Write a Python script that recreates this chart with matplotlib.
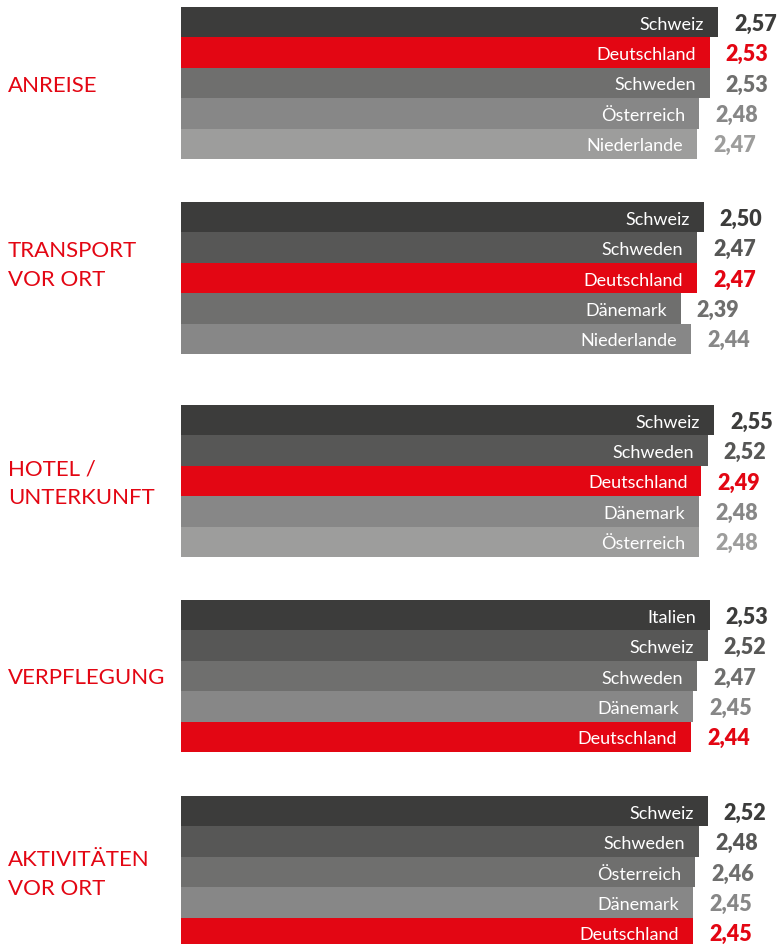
import matplotlib.pyplot as plt

# data
categories = ["ANREISE", "TRANSPORT\nVOR ORT", "HOTEL /\nUNTERKUNFT", "VERPFLEGUNG", "AKTIVITÄTEN\nVOR ORT"]

anreise_countries = ["Schweiz", "Deutschland", "Schweden", "Österreich", "Niederlande"]
anreise_values = [2.57, 2.53, 2.53, 2.48, 2.47]

transport_countries = ["Schweiz", "Schweden", "Deutschland", "Dänemark", "Niederlande"]
transport_values = [2.50, 2.47, 2.47, 2.39, 2.44]

hotel_countries = ["Schweiz", "Schweden", "Deutschland", "Dänemark", "Österreich"]
hotel_values = [2.55, 2.52, 2.49, 2.48, 2.48]

verpflegung_countries = ["Italien", "Schweiz", "Schweden", "Dänemark", "Deutschland"]
verpflegung_values = [2.53, 2.52, 2.47, 2.45, 2.44]

aktiv_countries = ["Schweiz", "Schweden", "Österreich", "Dänemark", "Deutschland"]
aktiv_values = [2.52, 2.48, 2.46, 2.45, 2.45]

# colours
C1, C2, C3, C4, C5 = "#3c3c3b", "#575756", "#6f6f6e", "#878787", "#9d9d9c"
RED = "#e30613"
group_colors = [
    [C1, RED, C3, C4, C5],
    [C1, C2, RED, C3, C4],
    [C1, C2, RED, C4, C5],
    [C1, C2, C3, C4, RED],
    [C1, C2, C3, C4, RED],
]

groups = [
    (anreise_countries, anreise_values),
    (transport_countries, transport_values),
    (hotel_countries, hotel_values),
    (verpflegung_countries, verpflegung_values),
    (aktiv_countries, aktiv_values),
]

# layout (pixels)
W, H = 778, 944
X0 = 181            # pixel where value 0 sits
PX_PER_UNIT = 209
ROW_H = 30.4
group_tops = [7, 202, 405, 600, 796]
label_rows = [2.5, 2.0, 2.5, 2.5, 2.5]   # vertical centre of category label, in rows

plt.rcParams['font.family'] = ['Lato', 'DejaVu Sans']

fig = plt.figure(figsize=(W / 100, H / 100), dpi=100)
ax = fig.add_axes([X0 / W, 0, (W - X0) / W, 1])
ax.set_xlim(0, (W - X0) / PX_PER_UNIT)
ax.set_ylim(H, 0)
ax.axis('off')

pad_in = 14 / PX_PER_UNIT
pad_out = 16 / PX_PER_UNIT

for g, (countries, values) in enumerate(groups):
    top = group_tops[g]
    ys = [top + i * ROW_H for i in range(len(values))]
    ax.barh(ys, values, height=ROW_H, align='edge', color=group_colors[g],
            linewidth=0)
    for y, c, v, col in zip(ys, countries, values, group_colors[g]):
        yc = y + ROW_H / 2
        ax.text(v - pad_in, yc + 2.5, c, ha='right', va='center', color='white',
                fontsize=13)
        ax.text(v + pad_out, yc + 2, f"{v:.2f}".replace('.', ','), ha='left',
                va='center', color=col, fontsize=15.5, fontweight='heavy')
    ly = top + label_rows[g] * ROW_H + 2.5
    fig.text(8 / W, 1 - ly / H, categories[g], ha='left', va='center',
             color=RED, fontsize=16, linespacing=1.55)

fig.savefig("out.png", dpi=100, facecolor='white')
